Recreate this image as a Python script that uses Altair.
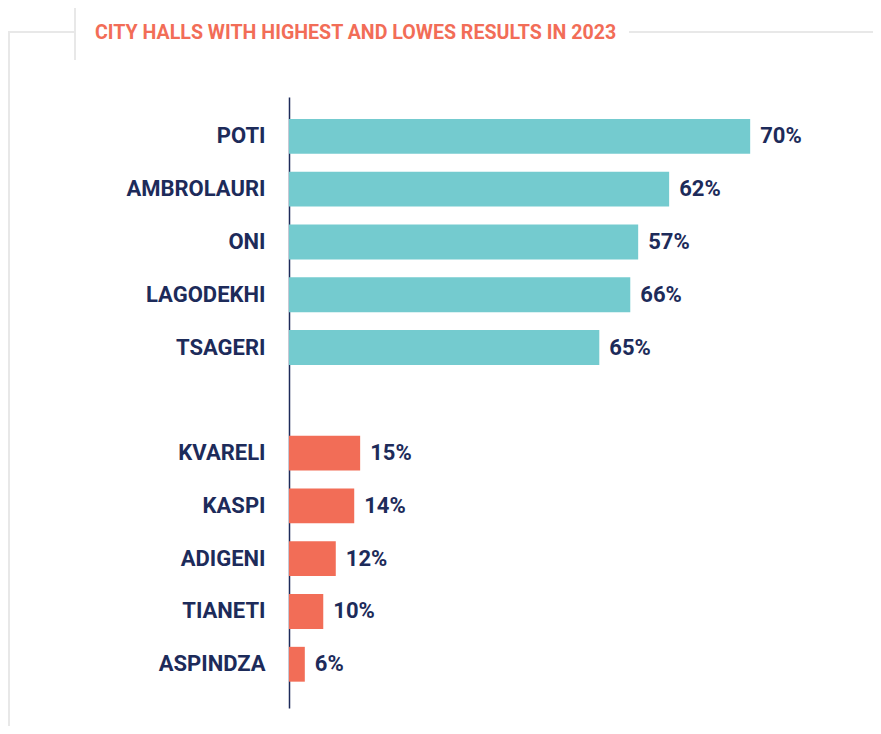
import altair as alt
import pandas as pd

# ---- data ----
cities = ["POTI", "AMBROLAURI", "ONI", "LAGODEKHI", "TSAGERI",
          "KVARELI", "KASPI", "ADIGENI", "TIANETI", "ASPINDZA"]
labels = ["70%", "62%", "57%", "66%", "65%", "15%", "14%", "12%", "10%", "6%"]
bar_values = [70, 57.7, 53.0, 51.8, 47.1, 10.8, 9.9, 7.1, 5.2, 2.4]
groups = ["highest"] * 5 + ["lowest"] * 5
title_text = "CITY HALLS WITH HIGHEST AND LOWES RESULTS IN 2023"

NAVY = "#1d2b5a"
TEAL = "#74cbcf"
CORAL = "#f26d57"
GRAY = "#e8e8e8"
LABEL_FONT = "Roboto"

df = pd.DataFrame({"city": cities, "label": labels, "value": bar_values, "group": groups})
y_domain = cities[:5] + [" "] + cities[5:]

y_scale = alt.Scale(domain=y_domain, paddingInner=0.34, paddingOuter=0.4576, align=0.455)
x_scale = alt.Scale(domain=[0, 85], nice=False, zero=True)

base = alt.Chart(df)

bars = base.mark_bar().encode(
    x=alt.X("value:Q", scale=x_scale, axis=None),
    y=alt.Y("city:N", scale=y_scale, sort=y_domain,
            axis=alt.Axis(title=None, ticks=False, tickSize=0, grid=False,
                          domainColor=NAVY, domainWidth=1.5,
                          labelFont=LABEL_FONT, labelFontSize=22, labelFontWeight="bold",
                          labelColor=NAVY, labelPadding=24)),
    color=alt.Color("group:N", scale=alt.Scale(domain=["highest", "lowest"], range=[TEAL, CORAL]),
                    legend=None),
)

texts = base.mark_text(align="left", baseline="middle", dx=10, font=LABEL_FONT,
                       fontSize=22, fontWeight="bold", color=NAVY).encode(
    x=alt.X("value:Q", scale=x_scale, axis=None),
    y=alt.Y("city:N", scale=y_scale, sort=y_domain),
    text="label:N",
)

title_df = pd.DataFrame({"t": [title_text]})
title = alt.Chart(title_df).mark_text(align="left", baseline="middle", font="Roboto",
                                      fontSize=19.6, fontWeight="bold", color=CORAL).encode(
    x=alt.value(-194), y=alt.value(-64.5), text="t:N")

# decorative frame lines (pixel offsets relative to plot origin)
frame_df = pd.DataFrame({"k": [0]})
rule1 = alt.Chart(frame_df).mark_rule(color=GRAY, strokeWidth=2).encode(
    x=alt.value(-214), y=alt.value(-90), y2=alt.value(-37))
rule2 = alt.Chart(frame_df).mark_rule(color=GRAY, strokeWidth=2).encode(
    x=alt.value(-285), x2=alt.value(-214), y=alt.value(-65))
rule3 = alt.Chart(frame_df).mark_rule(color=GRAY, strokeWidth=2).encode(
    x=alt.value(-280), y=alt.value(-65), y2=alt.value(700))
rule4 = alt.Chart(frame_df).mark_rule(color=GRAY, strokeWidth=2).encode(
    x=alt.value(340), x2=alt.value(700), y=alt.value(-65))

chart = alt.layer(rule1, rule2, rule3, rule4, title, bars, texts).properties(
    width=560, height=611,
    autosize=alt.AutoSizeParams(type="none"),
    padding={"left": 281, "top": 89, "right": 24, "bottom": 18},
).configure(background="white").configure_view(strokeWidth=0)

chart.save("out.html", embed_options={"renderer": "svg", "actions": False})
